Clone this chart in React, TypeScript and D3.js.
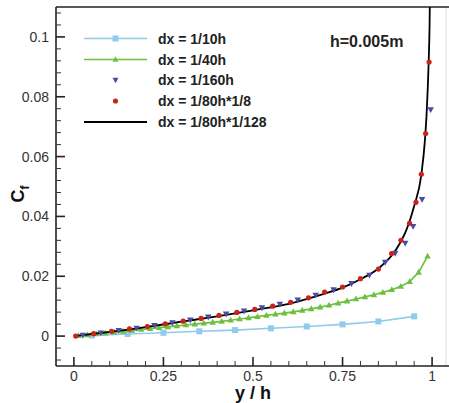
import React from "react";
import * as d3 from "d3";

const W = 449, H = 403;

// dx = 1/10h
const s10x = [0.05, 0.15, 0.25, 0.35, 0.45, 0.55, 0.65, 0.75, 0.85, 0.95];
const s10y = [0.0002, 0.0007, 0.0011, 0.0016, 0.002, 0.0026, 0.0032, 0.0039, 0.0049, 0.0066];

// dx = 1/40h
const s40x = [0.0125, 0.0375, 0.0625, 0.0875, 0.1125, 0.1375, 0.1625, 0.1875, 0.2125, 0.2375,
  0.2625, 0.2875, 0.3125, 0.3375, 0.3625, 0.3875, 0.4125, 0.4375, 0.4625, 0.4875,
  0.5125, 0.5375, 0.5625, 0.5875, 0.6125, 0.6375, 0.6625, 0.6875, 0.7125, 0.7375,
  0.7625, 0.7875, 0.8125, 0.8375, 0.8625, 0.8875, 0.9125, 0.9375, 0.9625, 0.9875];
const s40y = [0.0001, 0.0004, 0.0007, 0.001, 0.0013, 0.0016, 0.0019, 0.0022, 0.0025, 0.0028,
  0.0031, 0.0034, 0.0037, 0.004, 0.0043, 0.0046, 0.0049, 0.0053, 0.0057, 0.0061,
  0.0065, 0.0069, 0.0073, 0.0077, 0.0081, 0.0086, 0.0091, 0.0097, 0.0103, 0.011,
  0.0117, 0.0124, 0.0131, 0.0138, 0.0146, 0.0155, 0.0166, 0.0182, 0.0213, 0.0267];

// dx = 1/160h
const s160x = [0.025, 0.075, 0.125, 0.175, 0.225, 0.275, 0.325, 0.375, 0.425, 0.475,
  0.525, 0.575, 0.625, 0.675, 0.725, 0.775, 0.825, 0.869, 0.897, 0.925, 0.947, 0.972, 0.996];
const s160y = [0.0003, 0.0011, 0.0019, 0.0027, 0.0036, 0.0045, 0.0054, 0.0064, 0.0074, 0.0084,
  0.0095, 0.0107, 0.0121, 0.0137, 0.0155, 0.0176, 0.0204, 0.0247, 0.0277, 0.0311, 0.0367, 0.0457, 0.0757];

// dx = 1/80h*1/8
const s8x = [0.005, 0.055, 0.105, 0.155, 0.205, 0.255, 0.305, 0.355, 0.405, 0.455,
  0.505, 0.555, 0.605, 0.655, 0.70, 0.75, 0.80, 0.85, 0.887, 0.913, 0.937, 0.955, 0.970, 0.982, 0.9916];
const s8y = [0.0, 0.0008, 0.0016, 0.0024, 0.0032, 0.0041, 0.005, 0.0059, 0.0069, 0.0079,
  0.0089, 0.01, 0.0113, 0.0128, 0.0147, 0.0164, 0.0192, 0.0224, 0.0276, 0.032, 0.0377, 0.0447, 0.0541, 0.0677, 0.0916];

// dx = 1/80h*1/128
const s128x = [0, 0.05, 0.1, 0.2, 0.3, 0.4, 0.5, 0.6, 0.7, 0.75, 0.8, 0.85, 0.9, 0.93, 0.95, 0.97, 0.98, 0.985, 0.99, 0.993, 0.995];
const s128y = [0, 0.0007, 0.0014, 0.003, 0.0048, 0.0066, 0.0086, 0.0108, 0.0142, 0.0162, 0.019, 0.0226, 0.029, 0.036, 0.0435, 0.054, 0.0655, 0.075, 0.09, 0.104, 0.125];

const xTicks = [0, 0.25, 0.5, 0.75, 1];
const xTickLabels = ["0", "0.25", "0.5", "0.75", "1"];
const yTicks = [0, 0.02, 0.04, 0.06, 0.08, 0.1];
const yTickLabels = ["0", "0.02", "0.04", "0.06", "0.08", "0.1"];

const legendLabels = ["dx = 1/10h", "dx = 1/40h", "dx = 1/160h", "dx = 1/80h*1/8", "dx = 1/80h*1/128"];

const C10 = "#8fcbea";
const C40 = "#6cc03e";
const C160 = "#4b4ba6";
const C8 = "#c8231c";

const L = 56, R = 450, T = 7, B = 366;

export default function App() {
  const x = d3.scaleLinear().domain([-0.05, 1.05]).range([L, R]);
  const y = d3.scaleLinear().domain([-0.01, 0.11]).range([B, T]);
  const line = d3.line<[number, number]>().x(d => x(d[0])).y(d => y(d[1]));
  const smooth = d3.line<[number, number]>().x(d => x(d[0])).y(d => y(d[1])).curve(d3.curveMonotoneX);

  const p10 = s10x.map((v, i) => [v, s10y[i]] as [number, number]);
  const p40 = s40x.map((v, i) => [v, s40y[i]] as [number, number]);
  const p160 = s160x.map((v, i) => [v, s160y[i]] as [number, number]);
  const p8 = s8x.map((v, i) => [v, s8y[i]] as [number, number]);
  const p128 = s128x.map((v, i) => [v, s128y[i]] as [number, number]);

  const xMinor = d3.range(-0.05, 1.051, 0.05).filter(v => !xTicks.some(t => Math.abs(t - v) < 1e-6) && v > -0.04 && v < 1.04);
  const yMinor = d3.range(-0.008, 0.1085, 0.004).filter(v => !yTicks.some(t => Math.abs(t - v) < 1e-6));

  const tri = (cx: number, cy: number, s: number, up: boolean) => {
    const h = s * 0.9;
    return up
      ? `M${cx},${cy - h * 0.6}L${cx + s / 2},${cy + h * 0.4}L${cx - s / 2},${cy + h * 0.4}Z`
      : `M${cx},${cy + h * 0.6}L${cx + s / 2},${cy - h * 0.4}L${cx - s / 2},${cy - h * 0.4}Z`;
  };

  const font = "Liberation Sans, Arial, sans-serif";
  const legendRows = [38.5, 59.5, 80, 101, 122];

  return (
    <svg width={W} height={H} style={{ position: "absolute", left: 0, top: 0, background: "#fff" }} fontFamily={font}>
      <defs>
        <clipPath id="plot">
          <rect x={L} y={T} width={R - L} height={B - T} />
        </clipPath>
      </defs>
      <rect x={0} y={0} width={W} height={H} fill="#fff" />

      {/* frame */}
      <line x1={446} x2={446} y1={T} y2={B} stroke="#ddd" strokeWidth={1} />
      <line x1={L} x2={R} y1={T} y2={T} stroke="#222" strokeWidth={1.6} />
      <line x1={L} x2={L} y1={T} y2={B} stroke="#222" strokeWidth={1.6} />
      <line x1={L} x2={R} y1={B} y2={B} stroke="#222" strokeWidth={1.6} />

      {/* ticks */}
      {xTicks.map(t => (
        <line key={"xt" + t} x1={x(t)} x2={x(t)} y1={B} y2={B - 9} stroke="#222" strokeWidth={1.6} />
      ))}
      {xMinor.map(t => (
        <line key={"xm" + t} x1={x(t)} x2={x(t)} y1={B} y2={B - 5} stroke="#333" strokeWidth={1} />
      ))}
      {yTicks.map(t => (
        <line key={"yt" + t} x1={L} x2={L + 9} y1={y(t)} y2={y(t)} stroke="#222" strokeWidth={1.6} />
      ))}
      {yMinor.map(t => (
        <line key={"ym" + t} x1={L} x2={L + 5} y1={y(t)} y2={y(t)} stroke="#333" strokeWidth={1} />
      ))}

      {/* tick labels */}
      {xTicks.map((t, i) => (
        <text key={"xl" + t} x={x(t)} y={381} textAnchor="middle" fontSize={14} fill="#333">{xTickLabels[i]}</text>
      ))}
      {yTicks.map((t, i) => (
        <text key={"yl" + t} x={49} y={y(t) + 5} textAnchor="end" fontSize={14} fill="#333">{yTickLabels[i]}</text>
      ))}

      {/* axis titles */}
      <text x={253} y={399} textAnchor="middle" fontSize={18} fontWeight="bold" fill="#111">y / h</text>
      <text transform={`translate(24,194) rotate(-90)`} textAnchor="middle" fontSize={18} fontWeight="bold" fill="#111">
        C<tspan fontSize={12} dy={5}>f</tspan>
      </text>

      <g clipPath="url(#plot)">
        {/* 1/10h */}
        <path d={line(p10) || ""} fill="none" stroke={C10} strokeWidth={1.6} />
        {p10.map((d, i) => (
          <rect key={"a" + i} x={x(d[0]) - 3} y={y(d[1]) - 3} width={6} height={6} fill={C10} />
        ))}
        {/* 1/40h */}
        <path d={line(p40) || ""} fill="none" stroke={C40} strokeWidth={1.7} />
        {p40.map((d, i) => (
          <path key={"b" + i} d={tri(x(d[0]), y(d[1]), 6.5, true)} fill={C40} />
        ))}
        {/* 1/80h*1/128 */}
        <path d={smooth(p128) || ""} fill="none" stroke="#000" strokeWidth={1.8} />
        {/* 1/160h */}
        {p160.map((d, i) => (
          <path key={"c" + i} d={tri(x(d[0]), y(d[1]), 6.5, false)} fill={C160} />
        ))}
        {/* 1/80h*1/8 */}
        {p8.map((d, i) => (
          <circle key={"d" + i} cx={x(d[0])} cy={y(d[1])} r={2.6} fill={C8} />
        ))}
      </g>

      {/* legend */}
      <line x1={84} x2={147} y1={legendRows[0]} y2={legendRows[0]} stroke={C10} strokeWidth={1.6} />
      <rect x={115.5 - 3} y={legendRows[0] - 3} width={6} height={6} fill={C10} />
      <line x1={84} x2={147} y1={legendRows[1]} y2={legendRows[1]} stroke={C40} strokeWidth={1.7} />
      <path d={tri(115.5, legendRows[1], 6, true)} fill={C40} />
      <path d={tri(115.5, legendRows[2], 6, false)} fill={C160} />
      <circle cx={115.5} cy={legendRows[3]} r={2.6} fill={C8} />
      <line x1={84} x2={147} y1={legendRows[4]} y2={legendRows[4]} stroke="#000" strokeWidth={1.8} />
      {legendLabels.map((s, i) => (
        <text key={s} x={158} y={legendRows[i] + 5} fontSize={14} fontWeight="bold" fill="#222">{s}</text>
      ))}

      <text x={330} y={47} fontSize={16} fontWeight="bold" fill="#222">h=0.005m</text>
    </svg>
  );
}
